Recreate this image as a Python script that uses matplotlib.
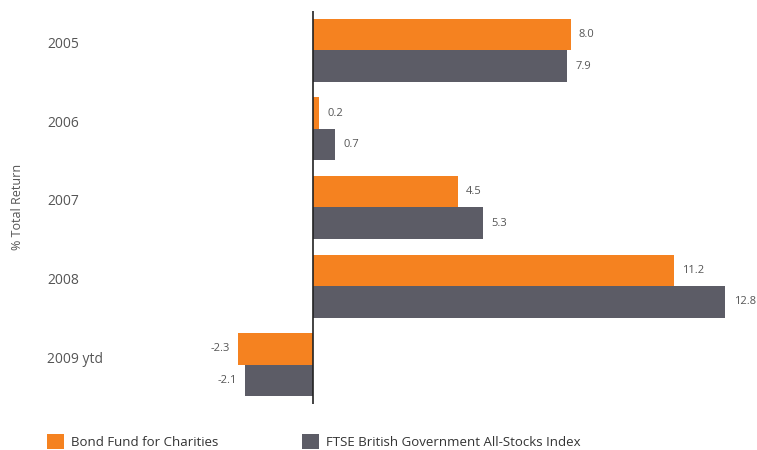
import matplotlib
matplotlib.use("Agg")
import matplotlib.pyplot as plt
from matplotlib.transforms import blended_transform_factory
import numpy as np

plt.rcParams['font.family'] = ['Open Sans', 'DejaVu Sans']

years = ['2005', '2006', '2007', '2008', '2009 ytd']
bond_fund = [8.0, 0.2, 4.5, 11.2, -2.3]
ftse_index = [7.9, 0.7, 5.3, 12.8, -2.1]
series_names = ['Bond Fund for Charities', 'FTSE British Government All-Stocks Index']

orange = '#F58220'
grey = '#5C5C66'

fig = plt.figure(figsize=(7.57, 4.5), dpi=100)
ax = fig.add_axes([0.285, 0.1022, 0.703, 0.8734])

y = np.arange(len(years))
h = 0.4
b1 = ax.barh(y - h / 2, bond_fund, height=h, color=orange, label=series_names[0])
b2 = ax.barh(y + h / 2, ftse_index, height=h, color=grey, label=series_names[1])

ax.set_xlim(-3, 13.5)
ax.set_ylim(4.5, -0.5)
ax.axvline(0, color='#222222', lw=1.2)

for s in ax.spines.values():
    s.set_visible(False)
ax.set_xticks([])
ax.set_yticks([])

# value labels
for bars, vals in [(b1, bond_fund), (b2, ftse_index)]:
    for bar, v in zip(bars, vals):
        yc = bar.get_y() + bar.get_height() / 2
        if v >= 0:
            ax.annotate(f'{v:.1f}', (v, yc), xytext=(6, 0), textcoords='offset points',
                        ha='left', va='center', fontsize=8, color='#555555')
        else:
            ax.annotate(f'{v:.1f}', (v, yc), xytext=(-6, 0), textcoords='offset points',
                        ha='right', va='center', fontsize=8, color='#555555')

# category labels on the left
tr = blended_transform_factory(fig.transFigure, ax.transData)
for yi, lab in zip(y, years):
    ax.text(47 / 757, yi - 0.07, lab, transform=tr, ha='left', va='center',
            fontsize=10, color='#555555')

fig.text(18 / 757, 0.54, '% Total Return', rotation=90, ha='center', va='center',
         fontsize=9, color='#555555')

fig.legend(handles=[b1, b2], loc='lower left', bbox_to_anchor=(47 / 757, 0.002),
           ncol=2, frameon=False, fontsize=9.5, handlelength=1.3, handleheight=1.3,
           handletextpad=0.55, columnspacing=6.3, borderpad=0, borderaxespad=0,
           labelcolor='#333333')

fig.savefig('out.png', dpi=100)
